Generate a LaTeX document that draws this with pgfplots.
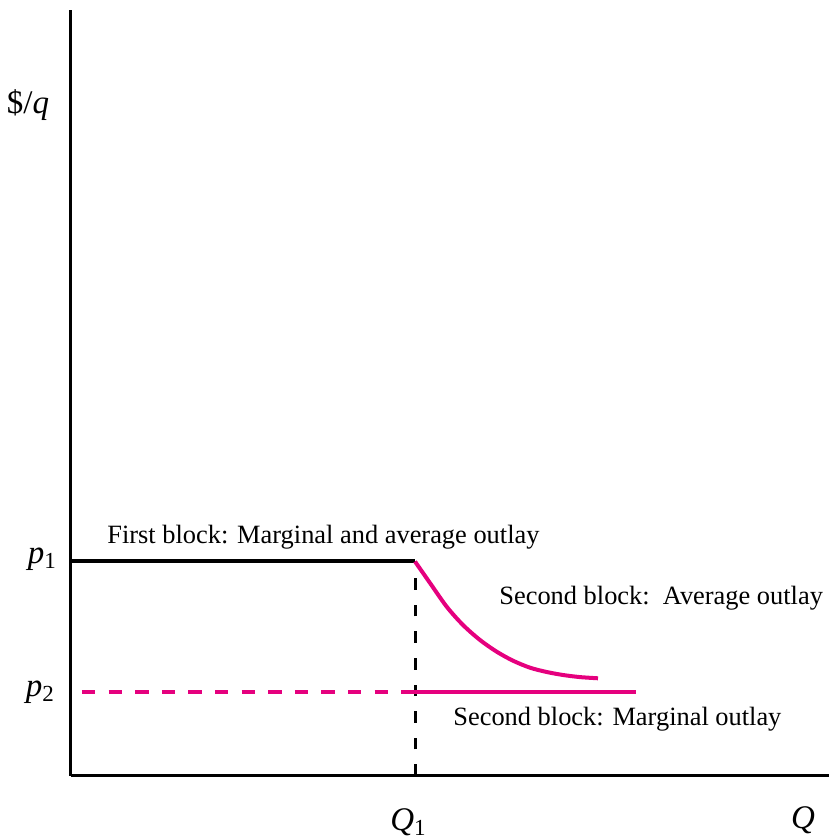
\documentclass[border=0pt]{standalone}
\usepackage{fontspec}
\setmainfont{Liberation Serif}
\usepackage{pgfplots}
\pgfplotsset{compat=1.18}
\definecolor{mag}{RGB}{229,0,126}
\newcommand{\lab}[2]{\textit{#1}\raisebox{-0.35ex}{\fontsize{11.5}{12}\selectfont #2}}
\tikzset{txt/.style={anchor=west, inner sep=0pt, font=\fontsize{13.2}{15}\selectfont},
  mlab/.style={anchor=center, font=\fontsize{16.5}{18}\selectfont}}
\begin{document}
\begin{tikzpicture}
\begin{axis}[
  scale only axis, width=379pt, height=383pt,
  xmin=0, xmax=758, ymin=0, ymax=766,
  axis lines=left, axis line style={-, line width=1.5pt},
  xtick=\empty, ytick=\empty, clip=false,
]
\addplot[black, line width=1.7pt] coordinates {(0,215) (344,215)};
\addplot[black, line width=1.5pt, dash pattern=on 5.8pt off 7.5pt] coordinates {(344,0) (344,215)};
\addplot[mag, line width=1.6pt, dash pattern=on 6.7pt off 6.6pt] coordinates {(11,84) (344,84)};
\addplot[mag, line width=1.9pt] coordinates {(344,84) (565,84)};
\addplot[mag, line width=2pt, smooth] coordinates {
(344,214.5) (359,193) (375.7,169.3) (392,151) (409,136) (425.7,124.3)
(442,115.3) (459,108.3) (475.7,104.0) (492,101.0) (509,98.9) (527,97.7)};
\coordinate (O) at (axis cs:0,0);
\node[mlab] at (axis cs:-43,671) {\$/\textit{q}};
\node[mlab] at (axis cs:-29,217) {\lab{p}{1}};
\node[mlab] at (axis cs:-31,84) {\lab{p}{2}};
\node[mlab] at (axis cs:337,-46) {\lab{Q}{1}};
\node[mlab] at (axis cs:732,-44) {\textit{Q}};
\node[txt] at (axis cs:36,239) {First block: Marginal and average outlay};
\node[txt] at (axis cs:428,178) {Second block:\ \ Average outlay};
\node[txt] at (axis cs:382,57) {Second block: Marginal outlay};
\end{axis}
\pgfresetboundingbox
\path (O) ++(-35.5pt,-32pt) rectangle ++(414.5pt,420pt);
\end{tikzpicture}
\end{document}
